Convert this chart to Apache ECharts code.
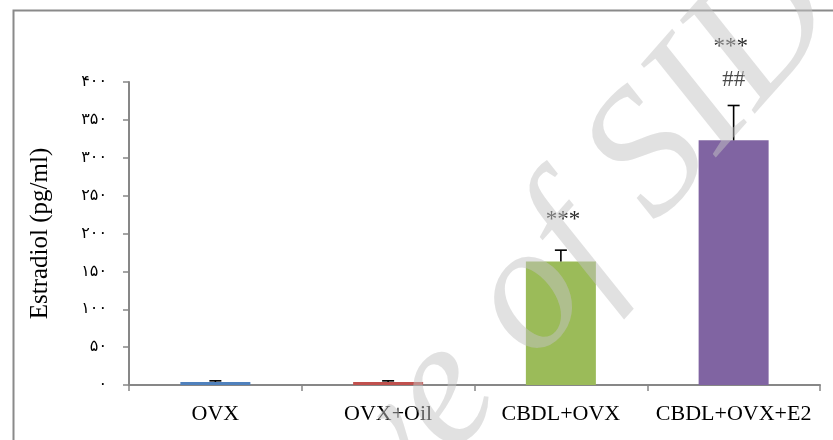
<!DOCTYPE html>
<html>
<head>
<meta charset="utf-8">
<script src="https://cdn.jsdelivr.net/npm/echarts@6/dist/echarts.min.js"></script>
<style>
  html, body { margin: 0; padding: 0; background: #fff; }
  #chart { width: 833px; height: 440px; }
</style>
</head>
<body>
<div id="chart"></div>
<script>
// Serum estradiol by group
const groups = ['OVX', 'OVX+Oil', 'CBDL+OVX', 'CBDL+OVX+E2'];
const estradiol = [4, 4, 163, 323];
const estradiolErr = [1.5, 1.5, 15, 46];
const barColors = ['#4F81BD', '#C0504D', '#9BBB59', '#8064A2'];
// significance marks above each bar (upper and lower line)
const sigUpper = ['', '', '', '***'];
const sigLower = ['', '', '***', '##'];
// y tick labels written in Persian digits
const yTickValues = [0, 50, 100, 150, 200, 250, 300, 350, 400];
const yTickLabels = ['۰', '۵۰', '۱۰۰', '۱۵۰', '۲۰۰', '۲۵۰', '۳۰۰', '۳۵۰', '۴۰۰'];

const chart = echarts.init(document.getElementById('chart'), null, { renderer: 'canvas' });
const serif = '"Liberation Serif", "Times New Roman", serif';
const axisGray = '#878787';

const option = {
  backgroundColor: '#ffffff',
  animation: false,
  grid: { left: 129, right: 13, top: 82, bottom: 55 },
  xAxis: {
    type: 'category',
    data: groups,
    axisLine: { lineStyle: { color: axisGray, width: 2 } },
    axisTick: { show: true, length: 6, lineStyle: { color: axisGray, width: 1.5 } },
    axisLabel: { color: '#000', fontFamily: serif, fontSize: 22, margin: 18, interval: 0, hideOverlap: false }
  },
  yAxis: {
    type: 'value',
    min: 0,
    max: 400,
    interval: 50,
    name: 'Estradiol (pg/ml)',
    nameLocation: 'middle',
    nameGap: 76,
    nameRotate: 90,
    nameTextStyle: { color: '#000', fontFamily: serif, fontSize: 25 },
    axisLine: { show: true, lineStyle: { color: axisGray, width: 2 } },
    axisTick: { show: true, length: 6, lineStyle: { color: axisGray, width: 1.5 } },
    splitLine: { show: false },
    axisLabel: {
      color: '#000',
      fontFamily: '"DejaVu Sans", sans-serif',
      fontSize: 16,
      margin: 22,
      formatter: function (v) { return yTickLabels[yTickValues.indexOf(v)]; }
    }
  },
  series: [
    {
      type: 'bar',
      barWidth: 70,
      data: estradiol.map(function (v, i) {
        return { value: v, itemStyle: { color: barColors[i] } };
      }),
      z: 2
    },
    {
      // upper error bars with caps
      type: 'custom',
      data: estradiol.map(function (v, i) { return [i, v, v + estradiolErr[i]]; }),
      renderItem: function (params, api) {
        const base = api.coord([api.value(0), api.value(1)]);
        const top = api.coord([api.value(0), api.value(2)]);
        const cap = 6;
        const style = { stroke: '#000', lineWidth: 1.6 };
        return {
          type: 'group',
          children: [
            { type: 'line', shape: { x1: base[0], y1: base[1], x2: top[0], y2: top[1] }, style: style },
            { type: 'line', shape: { x1: top[0] - cap, y1: top[1], x2: top[0] + cap, y2: top[1] }, style: style }
          ]
        };
      },
      z: 3
    },
    {
      // significance marks
      type: 'custom',
      data: estradiol.map(function (v, i) { return [i, v + estradiolErr[i]]; }),
      renderItem: function (params, api) {
        const i = params.dataIndex;
        const top = api.coord([api.value(0), api.value(1)]);
        const children = [];
        if (sigLower[i]) {
          const isHash = sigLower[i].indexOf('#') >= 0;
          children.push({
            type: 'text',
            x: top[0] + (isHash ? 0 : 2),
            y: top[1] - (isHash ? 26 : 30),
            style: {
              text: sigLower[i], align: 'center', verticalAlign: 'middle',
              textAlign: 'center', textVerticalAlign: 'middle',
              fill: isHash ? '#4a4a4a' : '#2a2a2a',
              font: '23px ' + serif
            }
          });
        }
        if (sigUpper[i]) {
          children.push({
            type: 'text',
            x: top[0] - 3,
            y: top[1] - 59,
            style: {
              text: sigUpper[i], align: 'center', verticalAlign: 'middle',
              textAlign: 'center', textVerticalAlign: 'middle',
              fill: '#2a2a2a', font: '23px ' + serif
            }
          });
        }
        return { type: 'group', children: children };
      },
      z: 4
    }
  ],
  graphic: [
    {
      // outer frame
      type: 'rect',
      left: 11, top: 8,
      shape: { x: 0, y: 0, width: 840, height: 450 },
      style: { fill: 'none', stroke: '#8a8a8a', lineWidth: 2 },
      z: 1
    },
    {
      // diagonal watermark
      type: 'text',
      x: 455, y: 382,
      rotation: Math.PI * 0.27,
      silent: true,
      style: {
        text: 'Archive of SID',
        x: 0, y: 0,
        align: 'center', verticalAlign: 'middle',
        textAlign: 'center', textVerticalAlign: 'middle',
        font: 'italic 180px ' + serif,
        fill: 'rgba(195,195,195,0.5)'
      },
      z: 100
    }
  ]
};

chart.setOption(option);
</script>
</body>
</html>
